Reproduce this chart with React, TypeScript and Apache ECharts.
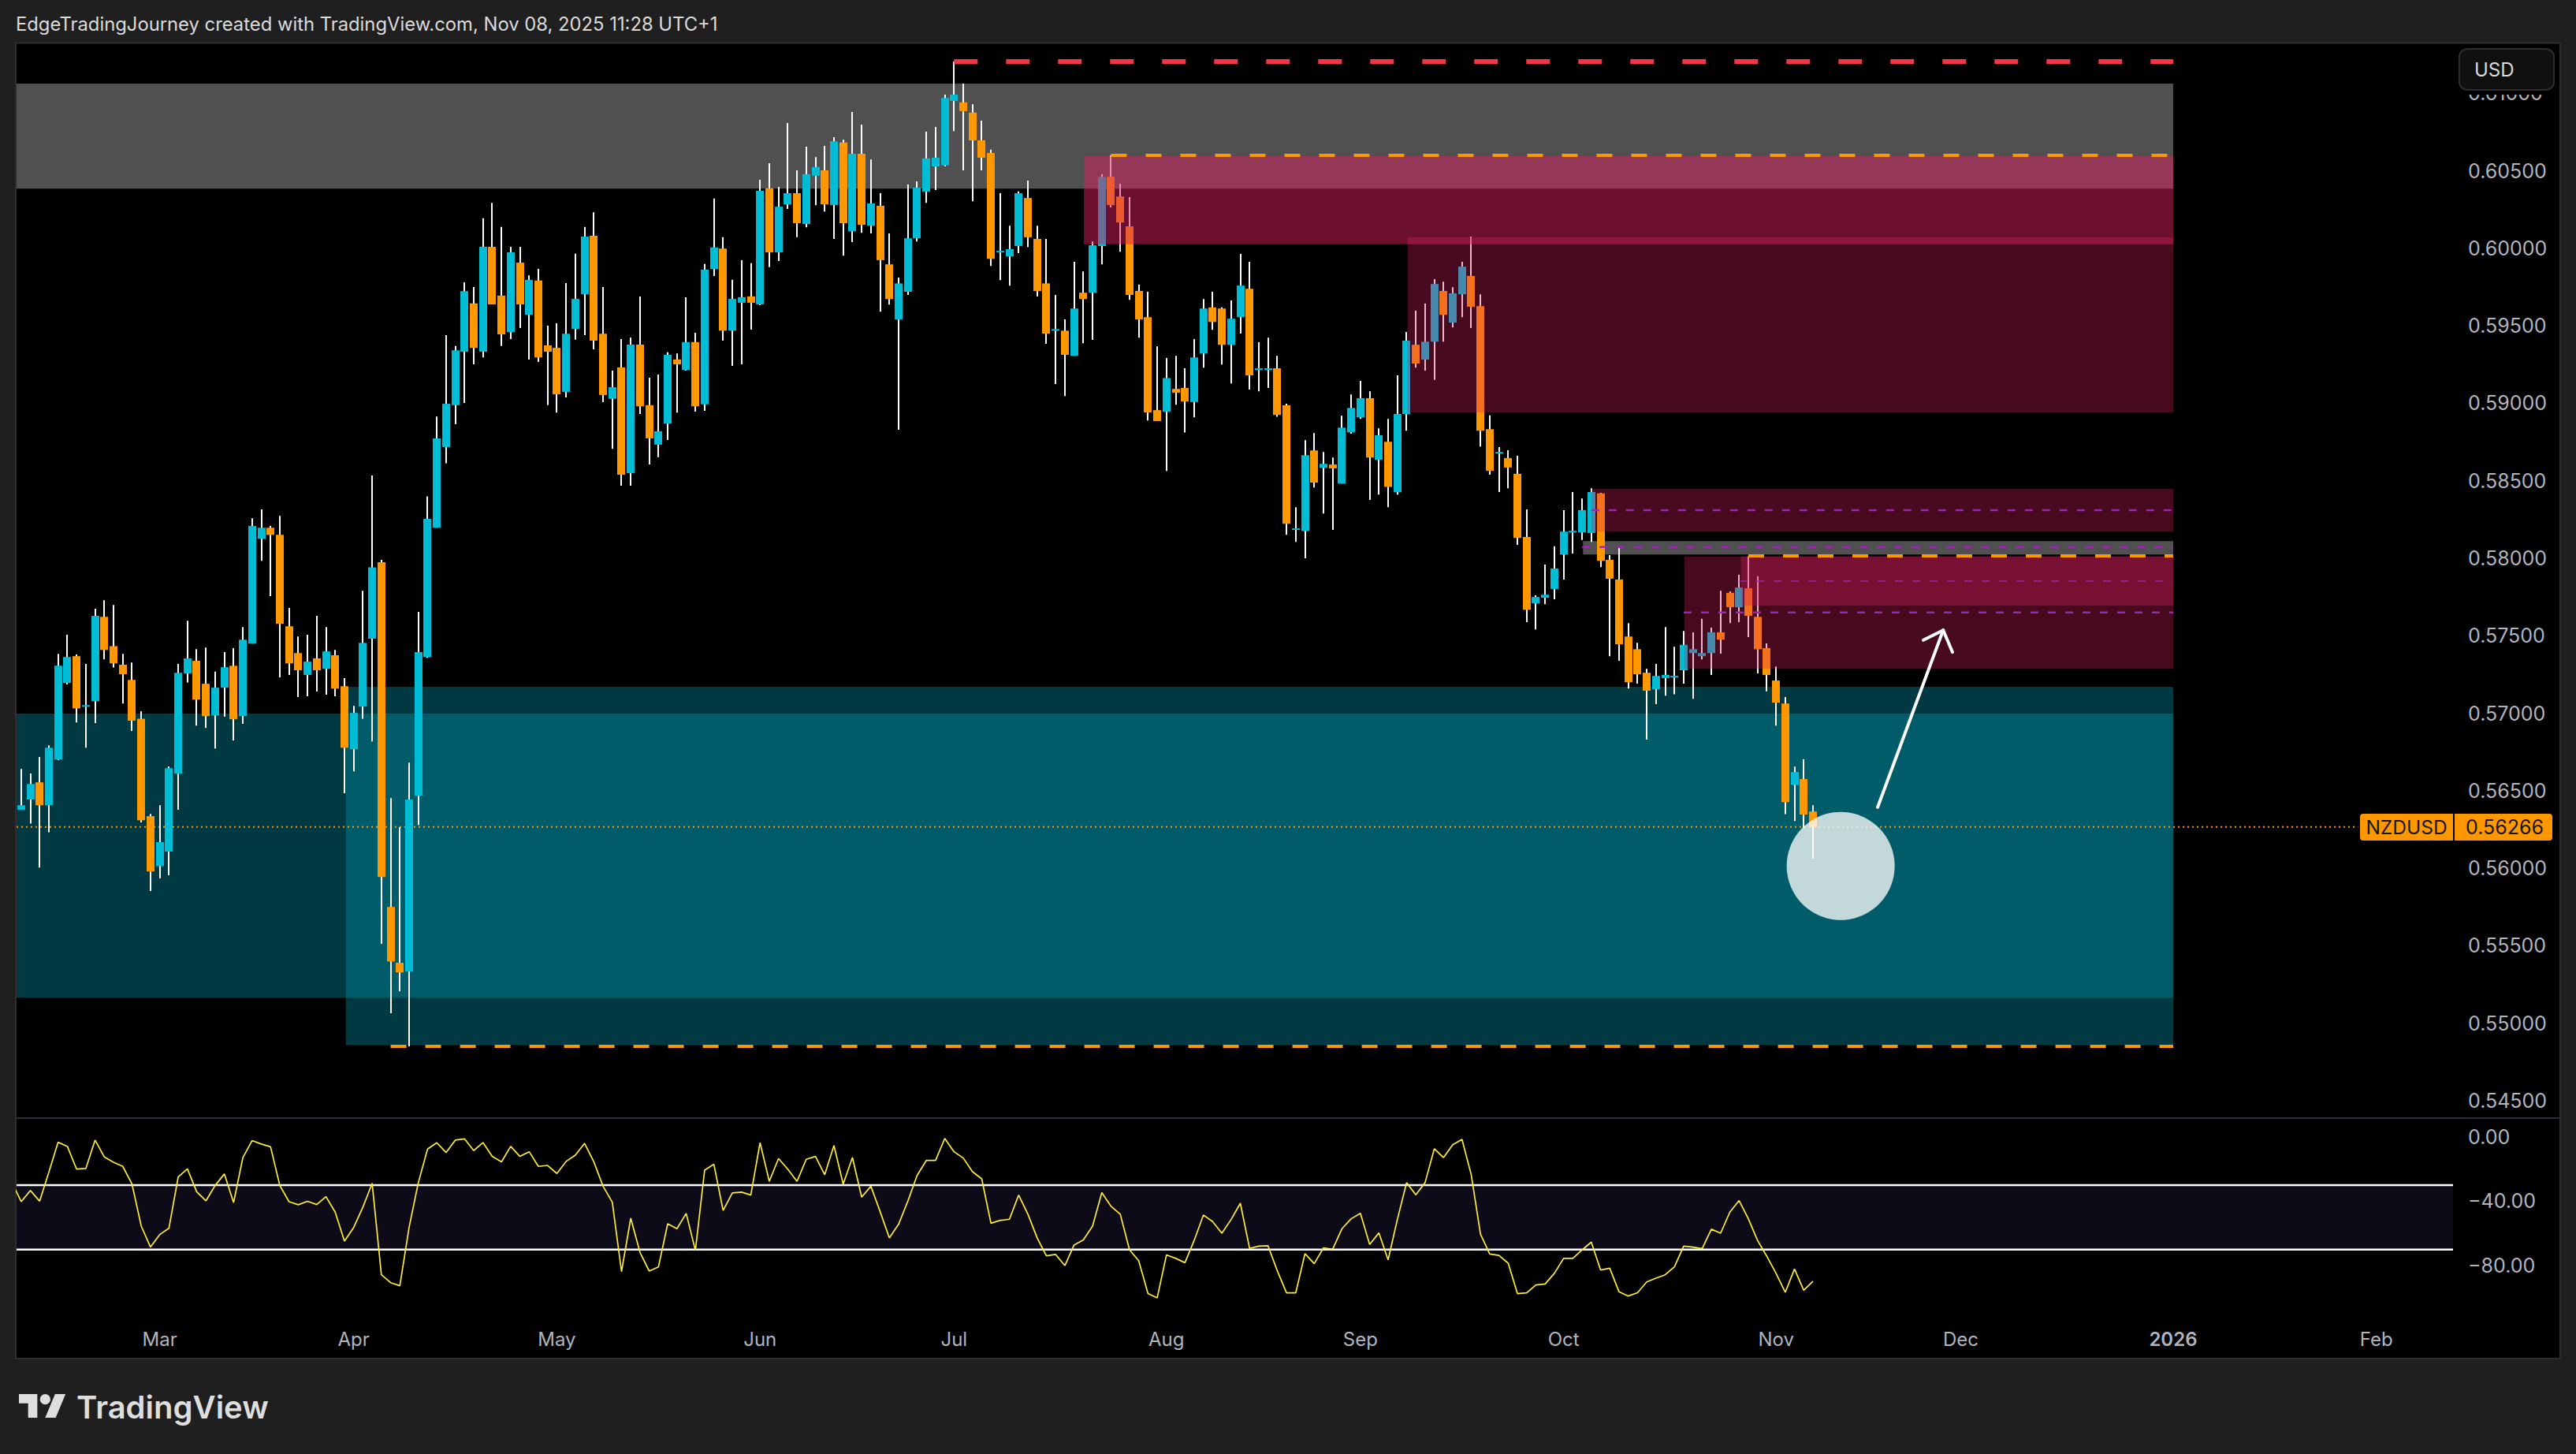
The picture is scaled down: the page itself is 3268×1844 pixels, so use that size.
import { useEffect, useRef } from "react";
import * as echarts from "echarts";

// daily NZDUSD candles, bar 0 is Feb 10 2025
const opens = [
  0.56377, 0.56443, 0.56554, 0.56406, 0.56702, 0.57195, 0.57368, 0.57043, 0.57079, 0.57622,
  0.57433, 0.57313, 0.57215, 0.56965, 0.56336, 0.56013, 0.56107, 0.56611, 0.57256, 0.57338,
  0.5719, 0.56986, 0.57165, 0.57306, 0.56981, 0.57449, 0.58126, 0.58197, 0.58151, 0.57561,
  0.57388, 0.57247, 0.57354, 0.57286, 0.57374, 0.57174, 0.56768, 0.57043, 0.57481, 0.57974,
  0.5575, 0.55389, 0.55332, 0.56468, 0.57363, 0.58197, 0.58718, 0.58988, 0.59333, 0.59645,
  0.59333, 0.6001, 0.59695, 0.59461, 0.59908, 0.59572, 0.59792, 0.59374, 0.59358, 0.59074,
  0.59481, 0.59704, 0.60081, 0.59449, 0.59029, 0.59231, 0.58549, 0.59379, 0.58988, 0.58733,
  0.5887, 0.59283, 0.59215, 0.59395, 0.58993, 0.59867, 0.59999, 0.5947, 0.59649, 0.5969,
  0.59638, 0.60388, 0.59974, 0.60284, 0.60356, 0.60157, 0.60469, 0.60504, 0.60279, 0.60683,
  0.60111, 0.6061, 0.60146, 0.60275, 0.59897, 0.59542, 0.5972, 0.60065, 0.60367, 0.60529,
  0.60535, 0.60951, 0.60942, 0.60876, 0.60697, 0.60616, 0.59974, 0.59949, 0.60015, 0.60325,
  0.60061, 0.59774, 0.59469, 0.59469, 0.59307, 0.59714, 0.59714, 0.60015, 0.60462, 0.60335,
  0.60142, 0.59725, 0.59556, 0.58956, 0.58945, 0.59093, 0.59099, 0.59008, 0.59321, 0.59619,
  0.59612, 0.59378, 0.59556, 0.59739, 0.59215, 0.59215, 0.59226, 0.58987, 0.58183, 0.58176,
  0.58696, 0.58584, 0.58605, 0.58482, 0.58812, 0.5891, 0.59033, 0.58636, 0.58752, 0.58426,
  0.58931, 0.59378, 0.59282, 0.59398, 0.59725, 0.59521, 0.59704, 0.59822, 0.59627, 0.58833,
  0.58677, 0.58647, 0.58545, 0.58138, 0.57709, 0.57745, 0.57802, 0.58024, 0.58168, 0.58168,
  0.58163, 0.58418, 0.5799, 0.57863, 0.57495, 0.57413, 0.57261, 0.57154, 0.57227, 0.57232,
  0.57277, 0.57388, 0.57368, 0.57388, 0.57522, 0.57777, 0.57684, 0.57806, 0.57622, 0.5742,
  0.57211, 0.57062, 0.56538, 0.56575, 0.56366,
];
const highs = [
  0.5664, 0.56611, 0.56718, 0.56793, 0.57383, 0.57506, 0.57379, 0.57318, 0.57674, 0.57729,
  0.57699, 0.57383, 0.57327, 0.57013, 0.5635, 0.56406, 0.56656, 0.57318, 0.57597, 0.57413,
  0.57424, 0.57268, 0.57395, 0.5742, 0.57556, 0.58258, 0.58315, 0.58208, 0.58274, 0.57679,
  0.57495, 0.57506, 0.57629, 0.57556, 0.57408, 0.57227, 0.57047, 0.5779, 0.58534, 0.5799,
  0.56452, 0.56263, 0.56681, 0.57654, 0.584, 0.58915, 0.5944, 0.5937, 0.59781, 0.59751,
  0.60194, 0.60294, 0.60138, 0.6001, 0.6001, 0.59826, 0.59867, 0.59501, 0.59517, 0.59776,
  0.59965, 0.60138, 0.60233, 0.59751, 0.59211, 0.59415, 0.59424, 0.5969, 0.59165, 0.59186,
  0.59329, 0.59322, 0.59685, 0.59456, 0.59899, 0.60322, 0.60072, 0.59797, 0.59924, 0.59904,
  0.60442, 0.60549, 0.60397, 0.60809, 0.60504, 0.60656, 0.60589, 0.60662, 0.60718, 0.60701,
  0.6088, 0.60799, 0.60574, 0.60356, 0.60097, 0.59812, 0.60412, 0.60433, 0.60753, 0.60784,
  0.60992, 0.61206, 0.61063, 0.6093, 0.60824, 0.60637, 0.60356, 0.60146, 0.60367, 0.60437,
  0.60146, 0.60061, 0.597, 0.59542, 0.59914, 0.59851, 0.60045, 0.60479, 0.60599, 0.60417,
  0.60331, 0.59766, 0.5972, 0.59367, 0.59292, 0.59307, 0.59226, 0.59415, 0.59673, 0.5972,
  0.59619, 0.59664, 0.59964, 0.59914, 0.59394, 0.59423, 0.59307, 0.58997, 0.5833, 0.58762,
  0.58808, 0.58686, 0.5865, 0.5892, 0.59057, 0.59145, 0.59078, 0.58839, 0.589, 0.5918,
  0.59461, 0.59598, 0.59644, 0.59801, 0.59785, 0.59749, 0.59914, 0.60076, 0.59704, 0.58922,
  0.58717, 0.58697, 0.58661, 0.58315, 0.57761, 0.57959, 0.58077, 0.58311, 0.58427, 0.58386,
  0.58452, 0.58422, 0.5802, 0.58065, 0.57581, 0.57454, 0.57286, 0.57318, 0.57556, 0.57429,
  0.57531, 0.57522, 0.57609, 0.57552, 0.5779, 0.57786, 0.57893, 0.58013, 0.57884, 0.5745,
  0.57302, 0.57104, 0.56655, 0.56702, 0.56406,
];
const lows = [
  0.56377, 0.56288, 0.56004, 0.56232, 0.56697, 0.57186, 0.5694, 0.56777, 0.56936, 0.57347,
  0.57295, 0.57063, 0.56886, 0.56295, 0.55852, 0.55934, 0.55954, 0.56377, 0.57199, 0.5692,
  0.56904, 0.56772, 0.56977, 0.56825, 0.56931, 0.57449, 0.57983, 0.57756, 0.57231, 0.57247,
  0.57104, 0.57109, 0.5714, 0.5712, 0.57109, 0.56484, 0.56625, 0.56965, 0.56818, 0.55511,
  0.55064, 0.55205, 0.5485, 0.56279, 0.57358, 0.58197, 0.58613, 0.58865, 0.59002, 0.59252,
  0.59297, 0.59638, 0.5937, 0.59415, 0.59486, 0.59283, 0.59267, 0.58988, 0.5894, 0.59038,
  0.59411, 0.5944, 0.59349, 0.59008, 0.58706, 0.58468, 0.58468, 0.58931, 0.58606, 0.58652,
  0.58763, 0.5894, 0.59211, 0.58947, 0.58952, 0.59822, 0.59404, 0.59242, 0.59252, 0.59476,
  0.59633, 0.59879, 0.59919, 0.60254, 0.60072, 0.60136, 0.60279, 0.60238, 0.60061, 0.59953,
  0.6004, 0.60101, 0.60097, 0.59592, 0.59637, 0.58829, 0.597, 0.60045, 0.60294, 0.60377,
  0.60529, 0.60757, 0.60504, 0.60304, 0.60504, 0.59887, 0.59795, 0.5976, 0.5997, 0.60009,
  0.59689, 0.59384, 0.59124, 0.59047, 0.59307, 0.59388, 0.59409, 0.59897, 0.60265, 0.59978,
  0.59668, 0.59423, 0.58889, 0.58885, 0.58563, 0.58991, 0.58812, 0.5891, 0.5923, 0.59475,
  0.59251, 0.59128, 0.5945, 0.59089, 0.59078, 0.59099, 0.58914, 0.58152, 0.58106, 0.58,
  0.58457, 0.58289, 0.58183, 0.58482, 0.58804, 0.589, 0.58376, 0.58411, 0.5833, 0.58411,
  0.58823, 0.5923, 0.59211, 0.59151, 0.59398, 0.5949, 0.59556, 0.59486, 0.58721, 0.5854,
  0.58427, 0.58452, 0.58086, 0.57588, 0.57541, 0.57704, 0.57736, 0.57863, 0.58031, 0.58118,
  0.58106, 0.57943, 0.57368, 0.57338, 0.57159, 0.57191, 0.56829, 0.57059, 0.57113, 0.57122,
  0.57191, 0.57093, 0.57347, 0.57247, 0.57384, 0.57581, 0.57588, 0.57491, 0.57257, 0.57141,
  0.5692, 0.56349, 0.56304, 0.56258, 0.56062,
];
const closes = [
  0.56406, 0.56543, 0.56406, 0.56777, 0.57306, 0.57363, 0.57031, 0.57052, 0.57629, 0.57408,
  0.57322, 0.57252, 0.56952, 0.56309, 0.55979, 0.56168, 0.56645, 0.57261, 0.57354, 0.57088,
  0.56981, 0.57165, 0.57297, 0.56961, 0.57474, 0.58208, 0.58197, 0.58151, 0.57577, 0.57322,
  0.57277, 0.57333, 0.57277, 0.57399, 0.57159, 0.56777, 0.57002, 0.57454, 0.57942, 0.55943,
  0.55398, 0.55327, 0.56443, 0.57395, 0.58254, 0.58774, 0.58997, 0.59342, 0.59724, 0.59358,
  0.6001, 0.59638, 0.59445, 0.59974, 0.59638, 0.59797, 0.59297, 0.59333, 0.59058, 0.59449,
  0.59674, 0.60076, 0.59404, 0.59054, 0.59104, 0.5854, 0.59379, 0.58981, 0.58774, 0.5882,
  0.59313, 0.59252, 0.59395, 0.58981, 0.59863, 0.60006, 0.5947, 0.59674, 0.59685, 0.59649,
  0.60372, 0.59974, 0.60269, 0.60356, 0.60163, 0.60479, 0.60525, 0.60284, 0.60691, 0.60163,
  0.6061, 0.60153, 0.6029, 0.59924, 0.59673, 0.59774, 0.60065, 0.60392, 0.60581, 0.60585,
  0.60971, 0.60992, 0.60886, 0.60697, 0.60585, 0.59932, 0.59984, 0.59995, 0.60356, 0.60072,
  0.59725, 0.5945, 0.59479, 0.59313, 0.59612, 0.59673, 0.6002, 0.6046, 0.60279, 0.60167,
  0.597, 0.59542, 0.58941, 0.58885, 0.59163, 0.59068, 0.59012, 0.59296, 0.59612, 0.59525,
  0.59378, 0.59546, 0.5976, 0.5918, 0.59226, 0.59226, 0.58925, 0.58222, 0.58193, 0.58665,
  0.58488, 0.58609, 0.5858, 0.58843, 0.5897, 0.59033, 0.5865, 0.58794, 0.58461, 0.58931,
  0.59405, 0.59257, 0.59398, 0.5977, 0.59571, 0.5971, 0.59882, 0.59623, 0.58823, 0.58565,
  0.58686, 0.58586, 0.58131, 0.57668, 0.5775, 0.57765, 0.57934, 0.58172, 0.58177, 0.58311,
  0.58427, 0.57984, 0.57868, 0.57445, 0.572, 0.57252, 0.57145, 0.57241, 0.57247, 0.57241,
  0.57441, 0.57413, 0.57388, 0.57522, 0.57475, 0.57684, 0.57811, 0.57629, 0.57413, 0.57247,
  0.57068, 0.56426, 0.5662, 0.56346, 0.56266,
];

// oscillator, first value belongs to the bar before the window
const wprBefore = -28.3;
const wpr = [
  -40.3, -33.4, -40.0, -22.0, -3.4, -6.0, -20.1, -19.7, -2.1, -12.5,
  -15.8, -18.4, -29.4, -55.5, -68.5, -60.7, -56.8, -25.0, -19.9, -34.1,
  -39.8, -30.2, -23.1, -40.9, -13.0, -2.4, -4.5, -6.2, -30.2, -40.3,
  -42.2, -40.1, -42.1, -37.2, -46.8, -64.8, -56.3, -43.7, -28.9, -85.7,
  -90.6, -92.5, -56.3, -28.5, -7.6, -3.7, -9.8, -2.1, -1.3, -8.6,
  -3.6, -12.2, -15.6, -6.0, -12.2, -9.3, -18.4, -17.8, -22.8, -15.3,
  -11.4, -4.1, -15.5, -30.7, -40.6, -83.7, -50.6, -71.8, -83.4, -80.8,
  -54.0, -57.1, -47.6, -70.6, -20.7, -17.1, -45.8, -34.9, -34.4, -36.2,
  -3.7, -27.7, -13.5, -20.1, -27.7, -14.0, -12.2, -23.6, -5.4, -29.4,
  -12.9, -37.5, -30.7, -46.5, -62.8, -54.3, -40.0, -24.0, -14.7, -14.7,
  -1.0, -9.3, -13.2, -21.7, -26.1, -53.7, -51.9, -51.2, -36.2, -48.1,
  -62.8, -73.9, -73.1, -80.0, -67.2, -64.1, -55.5, -34.7, -43.2, -48.1,
  -70.2, -77.0, -97.4, -100.0, -73.4, -75.5, -78.2, -64.4, -48.6, -52.7,
  -59.9, -51.4, -41.3, -69.3, -67.9, -67.7, -83.2, -96.9, -96.9, -72.6,
  -78.8, -69.0, -69.8, -57.1, -50.9, -47.5, -66.9, -59.7, -76.4, -51.4,
  -28.5, -36.0, -28.5, -7.5, -12.9, -4.9, -1.6, -23.6, -60.4, -72.8,
  -73.7, -78.5, -97.4, -96.9, -92.0, -91.4, -84.8, -75.5, -75.5, -70.3,
  -65.4, -82.7, -81.6, -96.3, -98.9, -96.9, -90.1, -87.8, -85.7, -80.8,
  -67.9, -68.5, -69.5, -57.4, -59.9, -46.8, -39.6, -50.9, -64.4, -74.2,
  -84.8, -96.6, -82.1, -95.3, -89.7,
];
const wprLevels = [-30, -70];

// time axis: first trading bar of each month
const monthBars = [15, 36, 58, 80, 101, 124, 145, 167, 190, 210, 233, 255];
const monthLabels = ["Mar", "Apr", "May", "Jun", "Jul", "Aug", "Sep", "Oct", "Nov", "Dec", "2026", "Feb"];
const priceTicks = [0.545, 0.55, 0.555, 0.56, 0.565, 0.57, 0.575, 0.58, 0.585, 0.59, 0.595, 0.6, 0.605, 0.61];
const wprTicks = [0, -40, -80];

// zones: first bar, last bar, upper price, lower price
const firstBar = -0.5;
const lastBar = 263.3;
const zoneEnd = 233;
const tealZones = [
  [firstBar, zoneEnd, 0.56997, 0.55164],
  [35.15, zoneEnd, 0.5717, 0.54857],
];
const grayZones = [
  [firstBar, zoneEnd, 0.61063, 0.60385],
  [169.1, zoneEnd, 0.58111, 0.58024],
];
const strongRedZones = [[115.06, zoneEnd, 0.60595, 0.60026]];
const redZones = [
  [150.1, zoneEnd, 0.60072, 0.58941],
  [170, zoneEnd, 0.58447, 0.58172],
  [180.07, zoneEnd, 0.58011, 0.57286],
  [186.2, zoneEnd, 0.58011, 0.57695],
];
const bandZone = [[firstBar, lastBar, -30, -70]];

// dashed levels: first bar, price
const redLevels = [[101, 0.61206]];
const orangeLevels = [
  [118, 0.60601],
  [187, 0.58015],
  [40, 0.5485],
];
const purpleLevels = [
  [170, 0.58311],
  [169, 0.58072],
  [180, 0.5765],
];
const purpleThinLevels = [[186, 0.57852]];

const circleMark = [197, 0.56014];
const arrowShaft = [
  [201, 0.56393],
  [208.1, 0.57536],
];
const arrowHead = [
  [205.95, 0.57472],
  [208.1, 0.57536],
  [209.1, 0.57394],
];
const lastPriceEnd = 253;

const UP = "#00BCD4";
const DOWN = "#FF9800";
const PAGE = "#1F1F1F";
const AXIS_TEXT = "#B2B5BE";
const FONT = "Inter";

echarts.graphic.registerShape(
  "tvlogo",
  echarts.graphic.extendPath(
    "M14 22H7V11H0V4h14v18zM28 22h-8l7.5-18h8L28 22zM20 4a4 4 0 1 0 0 8a4 4 0 0 0 0-8z",
    {}
  )
);

function renderCandle(_: any, api: any) {
  const i = api.value(0);
  const o = api.value(1);
  const h = api.value(2);
  const l = api.value(3);
  const c = api.value(4);
  const top = api.coord([i, Math.max(o, c)]);
  const bottom = api.coord([i, Math.min(o, c)]);
  const hi = api.coord([i, h]);
  const lo = api.coord([i, l]);
  const x = Math.round(top[0]);
  return {
    type: "group",
    children: [
      {
        type: "rect",
        shape: { x: x - 1, y: hi[1], width: 2, height: Math.max(lo[1] - hi[1], 1) },
        style: { fill: "#FFFFFF" },
      },
      {
        type: "rect",
        shape: { x: x - 5, y: top[1], width: 10, height: Math.max(bottom[1] - top[1], 2) },
        style: { fill: c >= o ? UP : DOWN },
      },
    ],
  };
}

function zoneSeries(name: string, data: number[][], color: string, z: number, pane = 0) {
  return {
    name,
    type: "custom",
    xAxisIndex: pane,
    yAxisIndex: pane,
    z,
    silent: true,
    encode: { x: [0, 1], y: [2, 3] },
    data,
    renderItem: (_: any, api: any) => {
      const a = api.coord([api.value(0), api.value(2)]);
      const b = api.coord([api.value(1), api.value(3)]);
      return {
        type: "rect",
        shape: { x: a[0], y: a[1], width: b[0] - a[0], height: b[1] - a[1] },
        style: { fill: color },
      };
    },
  };
}

function levelSeries(levels: number[][], color: string, width: number, dash: number[] | string) {
  return levels.map(([start, price]) => ({
    type: "line",
    z: 5,
    silent: true,
    showSymbol: false,
    data: [
      [start, price],
      [zoneEnd, price],
    ],
    lineStyle: { color, width, type: dash, cap: "butt" },
  }));
}

function pathLine(data: number[][]) {
  return {
    type: "line",
    z: 7,
    silent: true,
    showSymbol: false,
    data,
    lineStyle: { color: "#FFFFFF", width: 4, cap: "round", join: "round" },
  };
}

export default function App() {
  const ref = useRef<HTMLDivElement>(null);

  useEffect(() => {
    document.body.style.margin = "0";
    document.body.style.background = PAGE;
    const el = ref.current;
    if (!el) return;
    const chart = echarts.init(el, undefined, { renderer: "svg" });
    const lastClose = closes[closes.length - 1];
    const candles = opens.map((o, i) => [i, o, highs[i], lows[i], closes[i]]);
    const wprLine = [[-1, wprBefore], ...wpr.map((v, i) => [i, v])];

    chart.setOption({
      animation: false,
      backgroundColor: PAGE,
      grid: [
        { left: 21, width: 3091, top: 55, height: 1362 },
        { left: 21, width: 3091, top: 1419, height: 251 },
      ],
      xAxis: [
        { gridIndex: 0, type: "value", min: firstBar, max: lastBar, show: false },
        {
          gridIndex: 1,
          type: "value",
          min: firstBar,
          max: lastBar,
          splitLine: { show: false },
          axisLine: { show: false },
          axisTick: { show: false },
          axisLabel: {
            customValues: monthBars,
            margin: 16,
            color: AXIS_TEXT,
            fontFamily: FONT,
            fontSize: 24,
            formatter: (v: number) => {
              const label = monthLabels[monthBars.indexOf(v)];
              return label === "2026" ? `{bold|${label}}` : label;
            },
            rich: { bold: { fontFamily: FONT, fontSize: 24, fontWeight: 600, color: AXIS_TEXT } },
          },
        },
      ],
      yAxis: [
        {
          gridIndex: 0,
          type: "value",
          position: "right",
          min: 0.54392,
          max: 0.61323,
          splitLine: { show: false },
          axisLine: { show: false },
          axisTick: { show: false },
          axisLabel: {
            customValues: priceTicks,
            align: "left",
            margin: 19,
            color: AXIS_TEXT,
            fontFamily: FONT,
            fontSize: 25,
            formatter: (v: number) => v.toFixed(5),
          },
        },
        {
          gridIndex: 1,
          type: "value",
          position: "right",
          min: -111.8,
          max: 11.1,
          splitLine: { show: false },
          axisLine: { show: false },
          axisTick: { show: false },
          axisLabel: {
            customValues: wprTicks,
            align: "left",
            margin: 19,
            color: AXIS_TEXT,
            fontFamily: FONT,
            fontSize: 25,
            formatter: (v: number) => (v < 0 ? `\u2212${Math.abs(v).toFixed(2)}` : v.toFixed(2)),
          },
        },
      ],
      series: [
        zoneSeries("teal", tealZones, "rgba(0,151,171,0.38)", 1),
        zoneSeries("gray", grayZones, "#505050", 1),
        {
          type: "line",
          z: 2,
          silent: true,
          showSymbol: false,
          data: [
            [firstBar, lastClose],
            [lastPriceEnd, lastClose],
          ],
          lineStyle: { color: DOWN, width: 2, type: [2, 4] },
        },
        {
          name: "NZDUSD",
          type: "custom",
          z: 3,
          silent: true,
          encode: { x: 0, y: [1, 2, 3, 4] },
          data: candles,
          renderItem: renderCandle,
        },
        zoneSeries("strong red", strongRedZones, "rgba(218,30,94,0.5)", 4),
        zoneSeries("red", redZones, "rgba(218,30,94,0.33)", 4),
        ...levelSeries(redLevels, "#F23645", 6, [30, 36]),
        ...levelSeries(orangeLevels, DOWN, 4, [20, 24]),
        ...levelSeries(purpleLevels, "#9C27B0", 2.5, [10, 12]),
        ...levelSeries(purpleThinLevels, "#9C27B0", 1.5, [10, 12]),
        {
          type: "scatter",
          z: 6,
          silent: true,
          symbol: "circle",
          symbolSize: 137,
          data: [circleMark],
          itemStyle: { color: "rgba(255,255,255,0.76)", opacity: 1 },
        },
        pathLine(arrowShaft),
        pathLine(arrowHead),
        zoneSeries("band", bandZone, "#0E0B19", 1, 1),
        ...wprLevels.map((level) => ({
          type: "line",
          xAxisIndex: 1,
          yAxisIndex: 1,
          z: 2,
          silent: true,
          showSymbol: false,
          data: [
            [firstBar, level],
            [lastBar, level],
          ],
          lineStyle: { color: "#FFFFFF", width: 2.5 },
        })),
        {
          name: "%R",
          type: "line",
          xAxisIndex: 1,
          yAxisIndex: 1,
          z: 3,
          silent: true,
          showSymbol: false,
          data: wprLine,
          lineStyle: { color: "#FFEB3B", width: 1.7 },
        },
      ],
      graphic: {
        elements: [
          {
            type: "rect",
            z: -10,
            silent: true,
            shape: { x: 20, y: 54.5, width: 3228, height: 1668.5 },
            style: { fill: "#000000", stroke: "#2E2E2E", lineWidth: 2 },
          },
          {
            type: "line",
            z: -9,
            silent: true,
            shape: { x1: 20, y1: 1418, x2: 3248, y2: 1418 },
            style: { stroke: "#2A2E39", lineWidth: 2 },
          },
          {
            type: "text",
            z: 20,
            silent: true,
            style: {
              x: 20,
              y: 30,
              text: "EdgeTradingJourney created with TradingView.com, Nov 08, 2025 11:28 UTC+1",
              fill: "#DBDBDB",
              font: `23.8px ${FONT}`,
              textVerticalAlign: "middle",
            },
          },
          {
            type: "rect",
            z: 19,
            silent: true,
            shape: { x: 3113, y: 56, width: 134, height: 64 },
            style: { fill: "#000000" },
          },
          {
            type: "rect",
            z: 20,
            silent: true,
            shape: { x: 3120, y: 62, width: 120, height: 52, r: 10 },
            style: { fill: "#101010", stroke: "#2E2E2E", lineWidth: 2 },
          },
          {
            type: "text",
            z: 21,
            silent: true,
            style: {
              x: 3139,
              y: 88,
              text: "USD",
              fill: "#DBDBDB",
              font: `24px ${FONT}`,
              textVerticalAlign: "middle",
            },
          },
          {
            type: "rect",
            z: 20,
            silent: true,
            shape: { x: 2994, y: 1032, width: 118, height: 34, r: [4, 0, 0, 4] },
            style: { fill: DOWN },
          },
          {
            type: "rect",
            z: 20,
            silent: true,
            shape: { x: 3114, y: 1032, width: 124, height: 34, r: [0, 4, 4, 0] },
            style: { fill: DOWN },
          },
          {
            type: "text",
            z: 21,
            silent: true,
            style: {
              x: 3053,
              y: 1049,
              text: "NZDUSD",
              fill: "#131722",
              font: `24.5px ${FONT}`,
              textAlign: "center",
              textVerticalAlign: "middle",
            },
          },
          {
            type: "text",
            z: 21,
            silent: true,
            style: {
              x: 3227,
              y: 1049,
              text: lastClose.toFixed(5),
              fill: "#131722",
              font: `25px ${FONT}`,
              textAlign: "right",
              textVerticalAlign: "middle",
            },
          },
          {
            type: "tvlogo",
            z: 20,
            silent: true,
            x: 24,
            y: 1761.3,
            scaleX: 1.667,
            scaleY: 1.667,
            style: { fill: "#DEDEDE" },
          },
          {
            type: "text",
            z: 20,
            silent: true,
            style: {
              x: 97,
              y: 1784,
              text: "TradingView",
              fill: "#DEDEDE",
              font: `600 40px ${FONT}`,
              textVerticalAlign: "middle",
            },
          },
        ],
      },
    });

    return () => chart.dispose();
  }, []);

  return <div ref={ref} style={{ width: 3268, height: 1844 }} />;
}
